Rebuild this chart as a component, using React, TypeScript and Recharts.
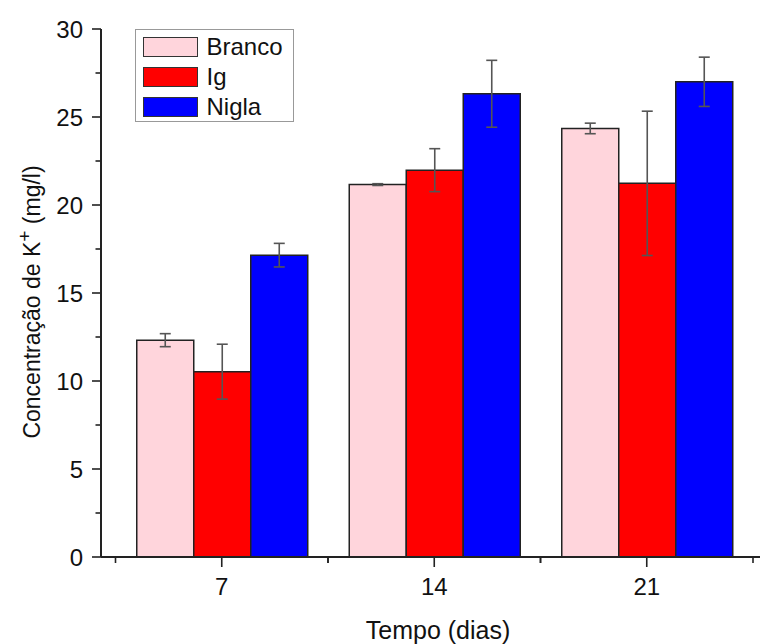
import { BarChart, Bar, XAxis, YAxis, ErrorBar, Legend } from 'recharts'

const days = ['7', '14', '21']

const branco = [12.32, 21.16, 24.35]
const brancoErr = [0.37, 0.05, 0.3]
const ig = [10.53, 21.98, 21.23]
const igErr = [1.56, 1.22, 4.1]
const nigla = [17.15, 26.32, 27.0]
const niglaErr = [0.67, 1.9, 1.4]

const yTicks = [0, 2.5, 5, 7.5, 10, 12.5, 15, 17.5, 20, 22.5, 25, 27.5, 30]

const SERIES = [
  { key: 'branco', name: 'Branco', color: '#FFD5DC' },
  { key: 'ig', name: 'Ig', color: '#FF0000' },
  { key: 'nigla', name: 'Nigla', color: '#0000FF' }
]

const data = days.map((day, i) => ({
  day,
  branco: branco[i],
  brancoErr: brancoErr[i],
  ig: ig[i],
  igErr: igErr[i],
  nigla: nigla[i],
  niglaErr: niglaErr[i]
}))

// layout
const W = 760
const H = 644
const Y_AXIS_W = 101
const X_AXIS_H = 87
const PAD_L = 14.5
const PAD_R = 7
const BAND = (W - Y_AXIS_W - PAD_L - PAD_R) / days.length
const FONT = '"Liberation Sans", Arial, sans-serif'
const AXIS = '#222'

const YTick = ({ x, y, payload }: any) => {
  const major = payload.value % 5 === 0
  return (
    <g>
      <line x1={x - (major ? 9 : 5.5)} x2={x} y1={y} y2={y} stroke={AXIS} strokeWidth={1.6} />
      {major && (
        <text x={x - 18} y={y} dy='0.36em' textAnchor='end' fontSize={24} fill='#111' fontFamily={FONT}>
          {payload.value}
        </text>
      )}
    </g>
  )
}

const XTick = ({ x, y, payload }: any) => (
  <g>
    <line x1={x} x2={x} y1={y} y2={y + 10} stroke={AXIS} strokeWidth={1.6} />
    <line x1={x - BAND / 2} x2={x - BAND / 2} y1={y} y2={y + 6} stroke={AXIS} strokeWidth={1.6} />
    <line x1={x + BAND / 2} x2={x + BAND / 2} y1={y} y2={y + 6} stroke={AXIS} strokeWidth={1.6} />
    <text x={x} y={y + 38} textAnchor='middle' fontSize={24} fill='#111' fontFamily={FONT}>
      {payload.value}
    </text>
  </g>
)

const LegendBox = () => (
  <div
    style={{
      position: 'absolute',
      left: 135,
      top: 29,
      width: 159,
      height: 93,
      boxSizing: 'border-box',
      border: '1.5px solid #999',
      background: '#fff',
      paddingTop: 1.5,
      paddingLeft: 6.5,
      fontFamily: FONT,
      fontSize: 24,
      color: '#111'
    }}
  >
    {SERIES.map((s) => (
      <div key={s.key} style={{ height: 30, display: 'flex', alignItems: 'center' }}>
        <div
          style={{
            width: 55,
            height: 20,
            boxSizing: 'border-box',
            background: s.color,
            border: '1.5px solid #333',
            marginRight: 9
          }}
        />
        <span style={{ lineHeight: '30px' }}>{s.name}</span>
      </div>
    ))}
  </div>
)

export default function App() {
  return (
    <div style={{ position: 'absolute', left: 0, top: 0, width: W, height: H, background: '#fff' }}>
      <BarChart
        width={W}
        height={H}
        data={data}
        margin={{ top: 29, right: 0, bottom: 0, left: 0 }}
        barCategoryGap='10%'
        barGap={0}
      >
        <XAxis
          dataKey='day'
          height={X_AXIS_H}
          padding={{ left: PAD_L, right: PAD_R }}
          axisLine={{ stroke: AXIS, strokeWidth: 2 }}
          tickLine={false}
          tickSize={0}
          tickMargin={0}
          tick={XTick}
          interval={0}
        />
        <YAxis
          width={Y_AXIS_W}
          domain={[0, 30]}
          ticks={yTicks}
          interval={0}
          axisLine={{ stroke: AXIS, strokeWidth: 2 }}
          tickLine={false}
          tickSize={0}
          tickMargin={0}
          tick={YTick}
        />
        <Legend
          layout='vertical'
          align='center'
          verticalAlign='middle'
          wrapperStyle={{ position: 'absolute', left: 0, top: 0, width: 0, height: 0 }}
          content={LegendBox}
        />
        {SERIES.map((s) => (
          <Bar
            key={s.key}
            dataKey={s.key}
            name={s.name}
            fill={s.color}
            stroke='#222'
            strokeWidth={1.5}
            isAnimationActive={false}
          >
            <ErrorBar dataKey={`${s.key}Err`} direction='y' width={5.5} stroke='#555' strokeWidth={1.6} />
          </Bar>
        ))}
        <text x={438} y={639} textAnchor='middle' fontSize={25} fill='#111' fontFamily={FONT}>
          Tempo (dias)
        </text>
        <text
          x={40}
          y={302}
          transform='rotate(-90 40 302)'
          textAnchor='middle'
          fontSize={23}
          fill='#111'
          fontFamily={FONT}
        >
          Concentração de K
          <tspan fontSize={19} dy={-9}>+</tspan>
          <tspan dy={9}> (mg/l)</tspan>
        </text>
      </BarChart>
    </div>
  )
}
